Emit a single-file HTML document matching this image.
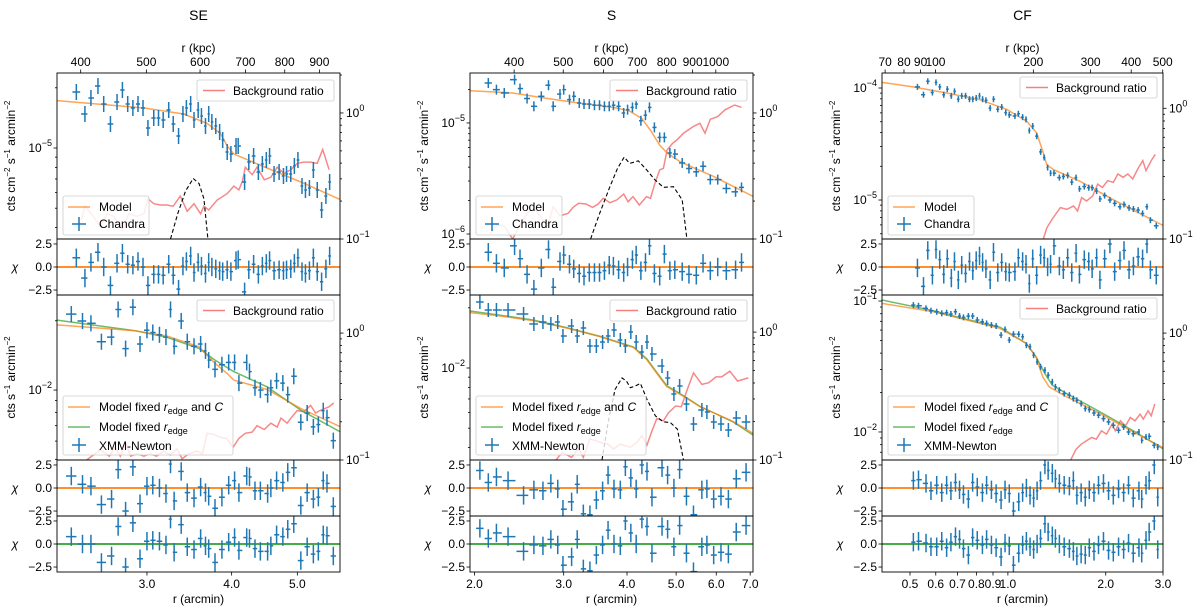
<!DOCTYPE html>
<html><head><meta charset="utf-8"><title>Surface brightness profiles: SE, S, CF</title>
<style>
html,body{margin:0;padding:0;background:#fff;}
svg{display:block;font-family:"Liberation Sans",sans-serif;}
</style></head>
<body>
<svg id="chart" width="1200" height="606" viewBox="0 0 1200 606" xmlns="http://www.w3.org/2000/svg"></svg>
<script>
// ---------------- DATA (r in arcmin, brightness as log10, chi residuals) ----------------
// SE Chandra
const seR=[2.36,2.43,2.48,2.54,2.59,2.65,2.71,2.76,2.81,2.86,2.91,2.96,3.01,3.07,3.12,3.17,3.23,3.28,3.34,3.39,3.43,3.48,3.52,3.57,3.61,3.66,3.70,3.74,3.79,3.84,3.88,3.94,3.99,4.06,4.09,4.18,4.24,4.31,4.38,4.44,4.50,4.55,4.62,4.70,4.77,4.82,4.89,4.95,5.01,5.08,5.14,5.21,5.28,5.35,5.43,5.51,5.58];
const seLogSB=[-4.72,-4.83,-4.75,-4.69,-4.78,-4.88,-4.77,-4.71,-4.78,-4.80,-4.78,-4.80,-4.90,-4.85,-4.85,-4.86,-4.81,-4.88,-4.94,-4.83,-4.80,-4.78,-4.86,-4.81,-4.84,-4.89,-4.83,-4.87,-4.89,-4.92,-4.96,-5.02,-5.03,-4.99,-4.99,-5.17,-5.07,-5.04,-5.12,-5.08,-5.06,-5.04,-5.13,-5.12,-5.14,-5.13,-5.13,-5.09,-5.06,-5.19,-5.21,-5.20,-5.11,-5.21,-5.31,-5.24,-5.17];
const seChi=[1.0,-1.2,0.5,1.6,0.0,-2.0,0.4,1.5,0.3,0.2,0.6,0.0,-2.0,-0.8,-0.8,-0.9,0.3,-0.9,-2.4,0.1,0.6,1.2,-0.6,0.5,0.1,-0.7,0.5,0.0,-0.2,-0.4,-0.5,-0.3,-0.5,0.7,0.8,-2.7,-0.3,0.3,-0.8,0.1,0.4,0.7,-0.4,-0.3,-0.4,-0.3,-0.2,0.4,1.0,-0.5,-0.7,-0.4,1.0,-0.5,-1.6,-0.2,1.2];
const seModelR=[2.21,2.97,3.40,3.68,3.85,3.94,4.03,4.51,5.06,5.78];
const seModelLog=[-4.763,-4.80,-4.83,-4.877,-4.927,-4.99,-5.03,-5.10,-5.17,-5.257];
const seBgR=[2.40,2.43,2.50,2.56,2.62,2.68,2.76,2.82,2.90,2.97,3.01,3.07,3.14,3.21,3.28,3.36,3.44,3.52,3.60,3.64,3.70,3.81,3.94,4.03,4.10,4.15,4.19,4.29,4.36,4.47,4.57,4.67,4.78,4.89,5.00,5.11,5.23,5.35,5.45,5.57];
const seBgLog=[-0.85,-0.74,-0.82,-0.90,-0.80,-0.82,-0.93,-0.80,-0.82,-0.80,-0.68,-0.72,-0.73,-0.73,-0.74,-0.66,-0.78,-0.72,-0.80,-0.74,-0.77,-0.69,-0.64,-0.58,-0.61,-0.54,-0.43,-0.49,-0.43,-0.53,-0.51,-0.43,-0.48,-0.45,-0.40,-0.39,-0.39,-0.40,-0.29,-0.45];
const seDashR=[3.25,3.33,3.42,3.51,3.58,3.64,3.69];
const seDashLog=[-1.0,-0.80,-0.62,-0.52,-0.56,-0.68,-1.0];
// SE XMM-Newton
const seXR=[2.32,2.41,2.48,2.57,2.66,2.72,2.79,2.86,2.93,3.00,3.06,3.13,3.20,3.25,3.29,3.37,3.44,3.52,3.60,3.66,3.70,3.78,3.87,3.96,4.04,4.10,4.21,4.25,4.33,4.41,4.52,4.57,4.66,4.76,4.84,4.94,5.06,5.17,5.28,5.37,5.46,5.53,5.65];
const seXLogSB=[-1.67,-1.70,-1.71,-1.79,-1.77,-1.65,-1.82,-1.64,-1.80,-1.74,-1.75,-1.76,-1.77,-1.65,-1.81,-1.70,-1.79,-1.81,-1.80,-1.83,-1.87,-1.91,-1.89,-1.88,-1.88,-1.97,-1.88,-1.92,-1.99,-2.00,-2.02,-1.99,-1.96,-1.97,-2.02,-1.94,-2.14,-2.10,-2.16,-2.15,-2.09,-2.12,-2.22];
const seXChi1=[1.3,0.4,0.2,-1.8,-1.2,2.0,-2.5,2.3,-1.7,0.2,0.3,0.0,-0.6,2.6,-1.4,1.8,-0.5,-1.1,0.1,-0.5,-0.9,-2.2,-1.0,0.3,0.8,-0.5,1.3,1.2,-0.3,-0.3,-0.6,0.0,0.8,0.6,1.7,2.2,-1.9,-0.5,-1.2,-1.0,0.8,0.5,-2.0];
const seXChi2=[0.8,0.0,0.0,-2.0,-1.3,1.9,-2.5,2.3,-1.6,0.3,0.4,0.3,-0.1,2.7,-0.9,2.1,-0.3,-0.6,0.6,-0.2,-0.5,-2.0,-0.6,0.2,0.7,-0.7,0.7,0.6,-0.5,-0.8,-0.8,-0.2,1.0,0.8,1.6,2.2,-1.8,-0.3,-1.1,-0.8,1.0,0.9,-1.3];
const seXModelCR=[2.21,2.88,3.21,3.58,3.78,3.94,4.03,4.51,5.06,5.78];
const seXModelCLog=[-1.717,-1.742,-1.765,-1.812,-1.884,-1.928,-1.957,-1.997,-2.08,-2.159];
const seXModelGR=[2.21,2.88,3.21,3.58,3.78,4.03,4.51,5.06,5.78];
const seXModelGLog=[-1.696,-1.742,-1.771,-1.819,-1.870,-1.920,-1.986,-2.087,-2.181];
const seXBgR=[2.43,2.56,2.64,2.69,2.74,2.79,2.84,2.90,2.97,3.03,3.10,3.17,3.25,3.32,3.38,3.46,3.56,3.62,3.68,3.77,3.84,3.93,4.02,4.10,4.19,4.29,4.36,4.47,4.57,4.67,4.73,4.83,4.91,5.00,5.11,5.23,5.32,5.40,5.57,5.66];
const seXBgLog=[-1.01,-0.92,-0.97,-0.90,-0.97,-0.87,-0.97,-0.95,-0.97,-0.95,-0.97,-0.93,-0.96,-0.91,-0.99,-0.95,-0.93,-0.95,-0.79,-0.80,-0.82,-0.83,-0.90,-0.83,-0.79,-0.78,-0.73,-0.76,-0.71,-0.74,-0.67,-0.71,-0.66,-0.61,-0.62,-0.57,-0.63,-0.61,-0.58,-0.55];

// S Chandra
const sR=[2.13,2.21,2.29,2.40,2.46,2.54,2.62,2.71,2.80,2.86,2.95,3.00,3.08,3.14,3.22,3.29,3.37,3.45,3.53,3.61,3.69,3.76,3.85,3.94,4.01,4.10,4.17,4.26,4.35,4.43,4.53,4.64,4.74,4.86,4.97,5.14,5.30,5.48,5.65,5.84,6.04,6.28,6.55,6.73];
const sLogSB=[-4.64,-4.70,-4.73,-4.61,-4.69,-4.78,-4.85,-4.76,-4.66,-4.85,-4.74,-4.70,-4.79,-4.76,-4.82,-4.83,-4.83,-4.84,-4.84,-4.85,-4.85,-4.84,-4.85,-4.91,-4.88,-4.86,-4.83,-4.98,-4.93,-4.86,-5.04,-5.13,-5.13,-5.27,-5.28,-5.36,-5.41,-5.44,-5.39,-5.51,-5.51,-5.59,-5.62,-5.58];
const sChi=[1.6,0.4,-0.1,2.3,0.9,-0.8,-2.4,-0.1,1.9,-2.2,0.6,1.3,0.3,-0.2,-0.7,-1.0,-0.6,-0.6,-0.6,-0.4,0.2,0.1,-0.3,-0.6,0.0,0.8,1.3,-0.4,0.5,2.3,-0.7,-1.0,1.4,-0.4,-0.3,-0.5,-0.8,-0.9,0.4,-0.4,0.0,-0.4,-0.3,0.5];
const sModelR=[1.96,2.38,2.79,3.21,3.76,4.04,4.28,4.47,4.64,4.80,5.09,5.92,7.09];
const sModelLog=[-4.71,-4.73,-4.78,-4.82,-4.86,-4.89,-4.96,-5.08,-5.20,-5.27,-5.35,-5.48,-5.66];
const sBgR=[2.15,2.22,2.29,2.38,2.45,2.54,2.63,2.71,2.79,2.86,2.95,3.06,3.13,3.21,3.32,3.42,3.51,3.59,3.70,3.82,3.94,4.02,4.11,4.23,4.37,4.45,4.54,4.64,4.72,4.80,4.92,5.02,5.17,5.40,5.57,5.70,5.84,6.04,6.24,6.52,6.73];
const sBgLog=[-0.955,-0.889,-0.897,-1.0,-0.90,-0.796,-0.757,-0.836,-0.889,-0.743,-0.817,-0.796,-0.749,-0.717,-0.722,-0.749,-0.722,-0.677,-0.712,-0.69,-0.643,-0.704,-0.664,-0.73,-0.664,-0.677,-0.558,-0.452,-0.439,-0.294,-0.241,-0.214,-0.161,-0.108,-0.082,-0.161,-0.05,-0.029,0.024,0.063,0.045];
const sDashR=[3.39,3.53,3.70,3.83,3.95,4.05,4.21,4.37,4.54,4.72,4.94,5.14,5.25];
const sDashLog=[-1.0,-0.80,-0.585,-0.44,-0.35,-0.40,-0.38,-0.45,-0.53,-0.59,-0.585,-0.69,-1.0];
// S XMM-Newton
const sXR=[2.05,2.13,2.21,2.33,2.50,2.62,2.73,2.83,2.92,2.99,3.11,3.19,3.28,3.38,3.48,3.58,3.67,3.77,3.88,3.97,4.07,4.17,4.28,4.38,4.48,4.69,4.81,4.95,5.08,5.24,5.41,5.62,5.75,5.93,6.13,6.34,6.57,6.87];
const sXLogSB=[-1.67,-1.71,-1.71,-1.71,-1.73,-1.78,-1.77,-1.78,-1.77,-1.84,-1.79,-1.84,-1.80,-1.89,-1.89,-1.87,-1.84,-1.81,-1.86,-1.89,-1.82,-1.87,-1.92,-1.87,-1.93,-1.99,-2.05,-2.13,-2.09,-2.18,-2.28,-2.21,-2.22,-2.27,-2.28,-2.31,-2.25,-2.27];
const sXChi1=[1.9,0.6,1.2,0.8,-0.8,-0.2,-0.3,0.5,-0.1,-2.3,-1.5,0.4,-2.8,-2.9,-1.3,-0.3,1.4,-0.1,-0.2,2.3,1.1,-0.1,2.5,1.8,-1.0,2.2,1.4,0.0,2.0,-0.9,-2.9,-0.2,-0.1,-1.2,-0.9,-1.2,1.0,1.7];
const sXChi2=[1.7,0.6,1.2,0.8,-0.8,-0.1,-0.2,0.5,-0.1,-2.3,-1.4,0.5,-2.7,-2.9,-1.2,-0.1,1.5,0.0,-0.2,2.5,1.2,0.0,2.7,1.9,-1.0,1.9,1.6,-0.3,2.0,-1.0,-3.0,-0.3,-0.1,-1.2,-0.9,-1.1,1.3,2.0];
const sXModelCR=[1.96,2.25,2.61,3.04,3.54,4.12,4.38,4.58,4.79,5.18,5.57,6.48,7.09];
const sXModelCLog=[-1.723,-1.74,-1.763,-1.80,-1.843,-1.897,-1.96,-2.027,-2.093,-2.143,-2.193,-2.268,-2.327];
const sXModelGR=[1.96,2.25,2.61,3.04,3.54,4.12,4.38,4.58,4.79,5.18,5.57,6.48,7.09];
const sXModelGLog=[-1.715,-1.736,-1.760,-1.798,-1.842,-1.895,-1.955,-2.022,-2.088,-2.140,-2.192,-2.270,-2.335];
const sXBgR=[2.89,2.98,3.11,3.21,3.28,3.38,3.48,3.59,3.67,3.76,3.88,4.06,4.18,4.28,4.38,4.48,4.58,4.72,4.83,4.99,5.12,5.26,5.41,5.62,5.80,5.99,6.15,6.38,6.61,6.94];
const sXBgLog=[-1.005,-0.94,-0.98,-0.91,-0.98,-0.837,-0.85,-0.868,-0.876,-0.915,-0.876,-0.90,-0.863,-0.81,-0.883,-0.772,-0.676,-0.694,-0.63,-0.578,-0.583,-0.448,-0.319,-0.409,-0.396,-0.35,-0.35,-0.306,-0.383,-0.358];
const sXDashR=[3.57,3.67,3.79,3.91,3.99,4.06,4.15,4.25,4.38,4.55,4.72,4.87,5.03,5.17];
const sXDashLog=[-1.0,-0.707,-0.448,-0.358,-0.383,-0.435,-0.422,-0.401,-0.526,-0.655,-0.702,-0.707,-0.759,-1.0];

// CF Chandra
const cfR=[0.527,0.550,0.567,0.586,0.601,0.617,0.635,0.651,0.670,0.685,0.704,0.721,0.741,0.762,0.780,0.799,0.818,0.836,0.856,0.882,0.903,0.931,0.957,0.985,1.010,1.051,1.077,1.110,1.137,1.164,1.192,1.226,1.261,1.293,1.325,1.353,1.386,1.440,1.481,1.527,1.572,1.621,1.660,1.718,1.773,1.816,1.875,1.919,1.984,2.060,2.130,2.212,2.276,2.359,2.433,2.516,2.596,2.678,2.744,2.860];
const cfLogSB=[-3.99,-4.06,-3.94,-4.04,-3.95,-3.99,-4.06,-4.01,-4.07,-4.03,-4.10,-4.07,-4.07,-4.10,-4.10,-4.09,-4.07,-4.10,-4.11,-4.18,-4.10,-4.19,-4.17,-4.22,-4.24,-4.25,-4.23,-4.26,-4.28,-4.38,-4.34,-4.43,-4.57,-4.62,-4.71,-4.76,-4.76,-4.80,-4.79,-4.78,-4.84,-4.80,-4.90,-4.88,-4.89,-4.89,-4.92,-4.99,-4.96,-5.00,-5.03,-5.06,-5.04,-5.07,-5.08,-5.09,-5.12,-5.06,-5.18,-5.23];
const cfChi=[-0.1,-2.1,1.8,-0.9,1.9,0.8,-0.8,0.9,-1.2,0.6,-1.4,0.2,-0.7,0.6,-0.4,0.7,1.2,0.5,-0.2,-1.4,1.6,-0.6,0.5,-0.5,-0.6,-0.5,1.0,0.6,0.3,-1.8,0.9,-0.9,1.3,1.0,0.0,0.3,2.3,0.1,-0.3,1.0,-0.6,1.5,-0.8,0.8,0.6,-0.2,1.0,-1.4,0.9,2.5,-0.5,0.7,1.8,-0.3,0.1,1.1,0.9,2.5,-0.3,-0.9];
const cfModelR=[0.41,0.511,0.648,0.821,0.994,1.144,1.226,1.285,1.317,1.383,1.667,2.11,3.01];
const cfModelLog=[-3.95,-3.99,-4.045,-4.104,-4.193,-4.298,-4.402,-4.58,-4.685,-4.729,-4.833,-4.997,-5.229];
const cfBgR=[1.285,1.317,1.366,1.451,1.520,1.592,1.639,1.685,1.745,1.824,1.889,1.955,2.026,2.11,2.18,2.26,2.34,2.42,2.51,2.60,2.66,2.76,2.84];
const cfBgLog=[-1.0,-0.915,-0.851,-0.76,-0.773,-0.747,-0.786,-0.683,-0.709,-0.67,-0.58,-0.606,-0.554,-0.567,-0.503,-0.528,-0.503,-0.541,-0.464,-0.40,-0.477,-0.40,-0.353];
// CF XMM-Newton
const cfXR=[0.512,0.531,0.560,0.580,0.604,0.626,0.648,0.668,0.690,0.710,0.730,0.756,0.779,0.805,0.835,0.860,0.890,0.920,0.953,0.980,1.010,1.040,1.080,1.110,1.140,1.170,1.200,1.230,1.260,1.300,1.330,1.370,1.400,1.440,1.490,1.546,1.590,1.630,1.680,1.730,1.780,1.840,1.900,1.968,2.040,2.110,2.190,2.270,2.350,2.430,2.530,2.580,2.660,2.720,2.820,2.890];
const cfXLogSB=[-1.031,-1.036,-1.056,-1.074,-1.082,-1.094,-1.089,-1.099,-1.082,-1.115,-1.125,-1.115,-1.115,-1.145,-1.158,-1.171,-1.184,-1.191,-1.26,-1.217,-1.298,-1.253,-1.253,-1.273,-1.337,-1.349,-1.413,-1.464,-1.503,-1.528,-1.566,-1.617,-1.656,-1.681,-1.707,-1.719,-1.745,-1.758,-1.783,-1.821,-1.829,-1.855,-1.872,-1.898,-1.923,-1.949,-1.987,-1.962,-2.0,-2.013,-2.0,-2.064,-2.038,-2.033,-2.102,-2.115];
const cfXChi1=[0.8,0.9,0.5,-0.3,0.3,-0.5,0.3,-0.3,0.6,-0.2,-0.7,-1.2,0.6,0.1,-0.5,0.3,-0.2,-0.6,-1.3,-0.2,-0.6,-2.5,-1.5,-0.5,0.0,-0.8,-1.1,-0.3,0.8,2.5,1.9,1.6,1.0,0.5,0.3,0.2,0.8,-0.8,-0.5,-1.0,-0.2,-0.5,0.3,0.5,-0.3,-0.8,-0.1,-0.5,0.3,-1.1,-0.3,-1.2,0.3,0.8,2.5,-1.0];
const cfXChi2=[0.2,0.3,0.1,-0.3,-0.3,0.3,-0.4,0.2,0.8,0.5,-0.5,-1.2,0.7,0.4,-0.1,0.5,-0.1,-0.4,-1.4,0.1,-0.2,-2.3,-1.0,-0.1,0.3,-0.3,-0.6,0.0,0.6,2.2,1.3,0.9,0.6,0.0,-0.3,-0.5,-0.8,-1.3,-1.1,-1.2,-0.4,-0.8,-0.1,0.3,-0.7,-0.9,-0.3,-0.6,0.1,-1.0,-0.4,-1.0,0.4,1.3,2.5,-0.6];
const cfXModelCR=[0.41,0.59,0.747,0.946,1.14,1.22,1.28,1.34,1.517,1.922,2.433,3.0];
const cfXModelCLog=[-1.018,-1.082,-1.145,-1.209,-1.324,-1.426,-1.579,-1.656,-1.732,-1.86,-2.0,-2.12];
const cfXModelGR=[0.41,0.59,0.747,0.946,1.14,1.22,1.30,1.37,1.517,1.922,2.433,3.0];
const cfXModelGLog=[-0.992,-1.074,-1.14,-1.20,-1.324,-1.426,-1.554,-1.643,-1.707,-1.847,-1.992,-2.128];
const cfXBgR=[1.56,1.62,1.68,1.74,1.81,1.87,1.94,2.01,2.09,2.14,2.22,2.30,2.38,2.46,2.55,2.61,2.70,2.76,2.83];
const cfXBgLog=[-1.0,-0.916,-0.876,-0.85,-0.823,-0.836,-0.77,-0.797,-0.718,-0.77,-0.691,-0.731,-0.665,-0.691,-0.639,-0.678,-0.612,-0.652,-0.559];

// Axis tick values
const seBottomTicks=[3,4,5], sBottomTicks=[2,3,4,5,6,7], cfBottomTicks=[0.5,0.6,0.7,0.8,0.9,1,2,3];
const seKpcTicks=[400,500,600,700,800,900], sKpcTicks=[400,500,600,700,800,900,1000], cfKpcTicks=[70,80,90,100,200,300,400,500];
const chiTicks=[-2.5,0,2.5];
const KPC_PER_ARCMIN=167;

// ---------------- DRAWING ----------------
const NS='http://www.w3.org/2000/svg';
const svg=document.getElementById('chart');
function mk(tag,attrs,parent){const e=document.createElementNS(NS,tag);for(const k in attrs)e.setAttribute(k,attrs[k]);(parent||svg).appendChild(e);return e;}
const BLUE='#1f77b4',ORANGE='#ff7f0e',GREEN='#2ca02c',RED='#f46060';
const ROWS={top:[73,239],res0:[239,295],bot:[295,460],res1:[460,516],res2:[516,572]};
const COLS=[{id:'se',title:'SE',x0:57,x1:340,rmin:2.21,rmax:5.78},{id:'s',title:'S',x0:470,x1:753,rmin:1.96,rmax:7.09},{id:'cf',title:'CF',x0:882,x1:1163,rmin:0.41,rmax:3.0}];
let clipN=0;
function xs(c,r){return c.x0+(Math.log10(r)-Math.log10(c.rmin))/(Math.log10(c.rmax)-Math.log10(c.rmin))*(c.x1-c.x0);}
function yv(row,lo,hi,v){return row[1]-(v-lo)/(hi-lo)*(row[1]-row[0]);}
function clipFor(c,row){const id='clip'+(clipN++);const cp=mk('clipPath',{id:id});mk('rect',{x:c.x0,y:row[0],width:c.x1-c.x0,height:row[1]-row[0]},cp);return 'url(#'+id+')';}
function sup(t,x,y,base,exp,anchor,name){
  const e=mk('text',{x:x,y:y,'font-size':12,'text-anchor':anchor,fill:'#000'});
  
  
  const a=mk('tspan',{},e);a.textContent=base;
  const b=mk('tspan',{dy:-6,'font-size':9},e);b.textContent=exp;
  return e;
}
function frame(c,row,name){
  const r=mk('rect',{x:c.x0,y:row[0],width:c.x1-c.x0,height:row[1]-row[0],fill:'none',stroke:'#000','stroke-width':0.9});
  
  
}
function leftLog(c,row,lo,hi,name){
  const g=mk('g',{});
  
  
  for(let k=Math.floor(lo);k<=Math.ceil(hi);k++){for(let m=1;m<10;m++){const v=k+Math.log10(m);if(v<lo-1e-6||v>hi+1e-6)continue;const y=yv(row,lo,hi,v);const L=m===1?3.5:2;mk('line',{x1:c.x0-L,x2:c.x0,y1:y,y2:y,stroke:'#000','stroke-width':0.8},g);
    if(m===1){const t=sup(null,c.x0-5,y+4,'10','\u2212'+Math.abs(k),'end','y-tick-label');g.appendChild(t);}}}
}
function rightLog(c,row,lo,hi,name){
  const g=mk('g',{});
  
  
  for(let k=Math.floor(lo);k<=Math.ceil(hi);k++){for(let m=1;m<10;m++){const v=k+Math.log10(m);if(v<lo-1e-6||v>hi+1e-6)continue;const y=yv(row,lo,hi,v);const L=m===1?3.5:2;mk('line',{x1:c.x1,x2:c.x1+L,y1:y,y2:y,stroke:'#000','stroke-width':0.8},g);
    if(m===1){const t=sup(null,c.x1+6,y+4,'10',k<0?'\u2212'+Math.abs(k):'0','start','right-y-tick-label');g.appendChild(t);}}}
}
function line(c,row,lo,hi,rs,vs,color,opts,name){
  const pts=rs.map((r,i)=>xs(c,r).toFixed(1)+','+yv(row,lo,hi,vs[i]).toFixed(1)).join(' ');
  const p=mk('polyline',Object.assign({points:pts,fill:'none',stroke:color,'stroke-width':1.5,'clip-path':clipFor(c,row)},opts||{}));
  
  
}
function points(c,row,lo,hi,rs,vs,errDex,name){
  const g=mk('g',{stroke:BLUE,'stroke-width':1.5,'clip-path':clipFor(c,row)});
  
  
  rs.forEach((r,i)=>{const x=xs(c,r),y=yv(row,lo,hi,vs[i]);
    const a=i>0?rs[i-1]:2*r-rs[i+1],b=i<rs.length-1?rs[i+1]:2*r-rs[i-1];
    const xa=xs(c,(a+r)/2),xb=xs(c,(r+b)/2);
    const g2=mk('g',{},g);
    
    
    mk('line',{x1:xa+0.5,x2:xb-0.5,y1:y,y2:y},g2);
    mk('line',{x1:x,x2:x,y1:yv(row,lo,hi,vs[i]-errDex),y2:yv(row,lo,hi,vs[i]+errDex)},g2);});
}
function residual(c,row,rs,chis,zeroColor,name){
  const lo=-3.04,hi=3.04;
  const g=mk('g',{});
  
  
  chiTicks.forEach(t=>{const y=yv(row,lo,hi,t);mk('line',{x1:c.x0-3.5,x2:c.x0,y1:y,y2:y,stroke:'#000','stroke-width':0.8},g);
    const tx=mk('text',{x:c.x0-5,y:y+4,'font-size':12,'text-anchor':'end'},g);
    
    
    tx.textContent=(t<0?'\u2212':'')+Math.abs(t).toFixed(1);});
  const lab=mk('text',{x:c.x0-42,y:(row[0]+row[1])/2+4,'font-size':12,'text-anchor':'middle','font-style':'italic'},g);
  
  
  lab.textContent='\u03c7';
  const z=yv(row,lo,hi,0);
  const zl=mk('line',{x1:c.x0,x2:c.x1,y1:z,y2:z,stroke:zeroColor,'stroke-width':1.8},g);
  
  
  points(c,row,lo,hi,rs,chis,1.0,'residual-points');
  frame(c,row,'residual-frame');
}
function legendBg(c,y0,name){
  const g=mk('g',{});
  
  
  mk('rect',{x:c.x1-143,y:y0,width:137,height:21,rx:2,fill:'#fff','fill-opacity':0.85,stroke:'#ccc','stroke-width':0.8},g);
  mk('line',{x1:c.x1-137,x2:c.x1-115,y1:y0+10.5,y2:y0+10.5,stroke:RED,'stroke-width':1.5,'stroke-opacity':0.8},g);
  const t=mk('text',{x:c.x1-107,y:y0+15,'font-size':12},g);t.textContent='Background ratio';
}
function legendModel(c,name){
  const g=mk('g',{});
  
  
  const x=c.x0+6,y0=196;
  mk('rect',{x:x,y:y0,width:86,height:39,rx:2,fill:'#fff','fill-opacity':0.85,stroke:'#ccc','stroke-width':0.8},g);
  mk('line',{x1:x+5,x2:x+27,y1:y0+11,y2:y0+11,stroke:ORANGE,'stroke-width':1.5,'stroke-opacity':0.7},g);
  let t=mk('text',{x:x+36,y:y0+15,'font-size':12},g);t.textContent='Model';
  mk('line',{x1:x+9,x2:x+23,y1:y0+28,y2:y0+28,stroke:BLUE,'stroke-width':1.5},g);
  mk('line',{x1:x+16,x2:x+16,y1:y0+21,y2:y0+35,stroke:BLUE,'stroke-width':1.5},g);
  t=mk('text',{x:x+36,y:y0+32,'font-size':12},g);t.textContent='Chandra';
}
function legendXmm(c,name){
  const g=mk('g',{});
  
  
  const x=c.x0+6,y0=396;
  mk('rect',{x:x,y:y0,width:170,height:59,rx:2,fill:'#fff','fill-opacity':0.8,stroke:'#ccc','stroke-width':0.8},g);
  mk('line',{x1:x+5,x2:x+27,y1:y0+11,y2:y0+11,stroke:ORANGE,'stroke-width':1.5,'stroke-opacity':0.7},g);
  let t=mk('text',{x:x+36,y:y0+15,'font-size':12},g);
  let s=mk('tspan',{},t);s.textContent='Model fixed ';
  s=mk('tspan',{'font-style':'italic'},t);s.textContent='r';
  s=mk('tspan',{'font-size':9,dy:3},t);s.textContent='edge';
  s=mk('tspan',{dy:-3},t);s.textContent=' and ';
  s=mk('tspan',{'font-style':'italic'},t);s.textContent='C';
  mk('line',{x1:x+5,x2:x+27,y1:y0+31,y2:y0+31,stroke:GREEN,'stroke-width':1.5,'stroke-opacity':0.7},g);
  t=mk('text',{x:x+36,y:y0+35,'font-size':12},g);
  s=mk('tspan',{},t);s.textContent='Model fixed ';
  s=mk('tspan',{'font-style':'italic'},t);s.textContent='r';
  s=mk('tspan',{'font-size':9,dy:3},t);s.textContent='edge';
  mk('line',{x1:x+9,x2:x+23,y1:y0+49,y2:y0+49,stroke:BLUE,'stroke-width':1.5},g);
  mk('line',{x1:x+16,x2:x+16,y1:y0+42,y2:y0+56,stroke:BLUE,'stroke-width':1.5},g);
  t=mk('text',{x:x+36,y:y0+54,'font-size':12},g);t.textContent='XMM-Newton';
}
function yTitle(c,row,txt,name){
  const cy=(row[0]+row[1])/2, x=c.x0-42;
  const t=mk('text',{x:x,y:cy,'font-size':12,'text-anchor':'middle',transform:'rotate(-90 '+x+' '+cy+')'});
  
  
  txt.forEach(p=>{const s=mk('tspan',p[1]?{dy:p[1],'font-size':p[2]||12}:{},t);s.textContent=p[0];});
}
function xAxes(c,bottomTicks,kpcTicks){
  const gb=mk('g',{});
  
  
  bottomTicks.forEach(v=>{const x=xs(c,v);mk('line',{x1:x,x2:x,y1:ROWS.res2[1],y2:ROWS.res2[1]+3.5,stroke:'#000','stroke-width':0.8},gb);
    const t=mk('text',{x:x,y:588,'font-size':12,'text-anchor':'middle'},gb);
    
    
    t.textContent=v.toFixed(1);});
  const xt=mk('text',{x:(c.x0+c.x1)/2,y:603,'font-size':12,'text-anchor':'middle'},gb);
  
  
  xt.textContent='r (arcmin)';
  const gt=mk('g',{});
  
  
  kpcTicks.forEach(v=>{const x=xs(c,v/KPC_PER_ARCMIN);mk('line',{x1:x,x2:x,y1:ROWS.top[0]-3.5,y2:ROWS.top[0],stroke:'#000','stroke-width':0.8},gt);
    const t=mk('text',{x:x,y:66,'font-size':12,'text-anchor':'middle'},gt);
    
    
    t.textContent=String(v);});
  const kt=mk('text',{x:(c.x0+c.x1)/2,y:52,'font-size':12,'text-anchor':'middle'},gt);
  
  
  kt.textContent='r (kpc)';
  const tt=mk('text',{x:(c.x0+c.x1)/2,y:20,'font-size':14,'text-anchor':'middle'});
  
  
  tt.textContent=c.title;
}
const TOP_TITLE=[['cts cm'],['\u22122',-5,8],[' s',5],['\u22121',-5,8],[' arcmin',5],['\u22122',-5,8]];
const BOT_TITLE=[['cts s'],['\u22121',-5,8],[' arcmin',5],['\u22122',-5,8]];

function panelSet(c,cfg){
  const T=ROWS.top,B=ROWS.bot;
  line(c,T,cfg.rLo,cfg.rHi,cfg.bgR,cfg.bgLog,RED,{'stroke-opacity':0.75},'background-ratio-line');
  if(cfg.dashR) line(c,T,cfg.rLo,cfg.rHi,cfg.dashR,cfg.dashLog,'#000',{'stroke-width':1.1,'stroke-dasharray':'4,2.5'},'dashed-profile');
  line(c,T,cfg.tLo,cfg.tHi,cfg.modelR,cfg.modelLog,ORANGE,{'stroke-opacity':0.7},'model-line');
  points(c,T,cfg.tLo,cfg.tHi,cfg.r,cfg.logSB,cfg.err,'chandra-points');
  legendBg(c,cfg.bgY,'legend-background-ratio');
  legendModel(c,'legend-model-chandra');
  frame(c,T,'chandra-panel-frame');
  leftLog(c,T,cfg.tLo,cfg.tHi,'left-y-axis-top');
  rightLog(c,T,cfg.rLo,cfg.rHi,'right-y-axis-top');
  yTitle(c,T,TOP_TITLE,'y-axis-title-chandra');
  residual(c,ROWS.res0,cfg.r,cfg.chi,ORANGE,'chandra-residuals');
  line(c,B,cfg.rLo2,cfg.rHi2,cfg.xBgR,cfg.xBgLog,RED,{'stroke-opacity':0.75},'background-ratio-line-xmm');
  if(cfg.xDashR) line(c,B,cfg.rLo2,cfg.rHi2,cfg.xDashR,cfg.xDashLog,'#000',{'stroke-width':1.1,'stroke-dasharray':'4,2.5'},'dashed-profile-xmm');
  line(c,B,cfg.bLo,cfg.bHi,cfg.xGR,cfg.xGLog,GREEN,{'stroke-opacity':0.7},'model-fixed-redge-line');
  line(c,B,cfg.bLo,cfg.bHi,cfg.xCR,cfg.xCLog,ORANGE,{'stroke-opacity':0.7},'model-fixed-redge-c-line');
  points(c,B,cfg.bLo,cfg.bHi,cfg.xR,cfg.xLogSB,cfg.xErr,'xmm-points');
  legendBg(c,cfg.bgY2,'legend-background-ratio-xmm');
  legendXmm(c,'legend-xmm');
  frame(c,B,'xmm-panel-frame');
  leftLog(c,B,cfg.bLo,cfg.bHi,'left-y-axis-bottom');
  rightLog(c,B,cfg.rLo2,cfg.rHi2,'right-y-axis-bottom');
  yTitle(c,B,BOT_TITLE,'y-axis-title-xmm');
  residual(c,ROWS.res1,cfg.xR,cfg.xChi1,ORANGE,'xmm-residuals-fixed-redge-c');
  residual(c,ROWS.res2,cfg.xR,cfg.xChi2,GREEN,'xmm-residuals-fixed-redge');
  xAxes(c,cfg.bt,cfg.kt);
}
panelSet(COLS[0],{tLo:-5.455,tHi:-4.625,rLo:-1,rHi:0.317,rLo2:-1,rHi2:0.30,bLo:-2.304,bHi:-1.587,bgY:80,bgY2:300,
  r:seR,logSB:seLogSB,chi:seChi,err:0.04,modelR:seModelR,modelLog:seModelLog,bgR:seBgR,bgLog:seBgLog,dashR:seDashR,dashLog:seDashLog,
  xR:seXR,xLogSB:seXLogSB,xErr:0.035,xChi1:seXChi1,xChi2:seXChi2,xCR:seXModelCR,xCLog:seXModelCLog,xGR:seXModelGR,xGLog:seXModelGLog,xBgR:seXBgR,xBgLog:seXBgLog,
  bt:seBottomTicks,kt:seKpcTicks});
panelSet(COLS[1],{tLo:-6.045,tHi:-4.55,rLo:-1,rHi:0.317,rLo2:-1,rHi2:0.29,bLo:-2.46,bHi:-1.635,bgY:80,bgY2:300,
  r:sR,logSB:sLogSB,chi:sChi,err:0.045,modelR:sModelR,modelLog:sModelLog,bgR:sBgR,bgLog:sBgLog,dashR:sDashR,dashLog:sDashLog,
  xR:sXR,xLogSB:sXLogSB,xErr:0.035,xChi1:sXChi1,xChi2:sXChi2,xCR:sXModelCR,xCLog:sXModelCLog,xGR:sXModelGR,xGLog:sXModelGLog,xBgR:sXBgR,xBgLog:sXBgLog,xDashR:sXDashR,xDashLog:sXDashLog,
  bt:sBottomTicks,kt:sKpcTicks});
panelSet(COLS[2],{tLo:-5.348,tHi:-3.866,rLo:-1,rHi:0.27,rLo2:-1,rHi2:0.30,bLo:-2.214,bHi:-0.954,bgY:77,bgY2:298,
  r:cfR,logSB:cfLogSB,chi:cfChi,err:0.027,modelR:cfModelR,modelLog:cfModelLog,bgR:cfBgR,bgLog:cfBgLog,
  xR:cfXR,xLogSB:cfXLogSB,xErr:0.023,xChi1:cfXChi1,xChi2:cfXChi2,xCR:cfXModelCR,xCLog:cfXModelCLog,xGR:cfXModelGR,xGLog:cfXModelGLog,xBgR:cfXBgR,xBgLog:cfXBgLog,
  bt:cfBottomTicks,kt:cfKpcTicks});
</script>
</body></html>
